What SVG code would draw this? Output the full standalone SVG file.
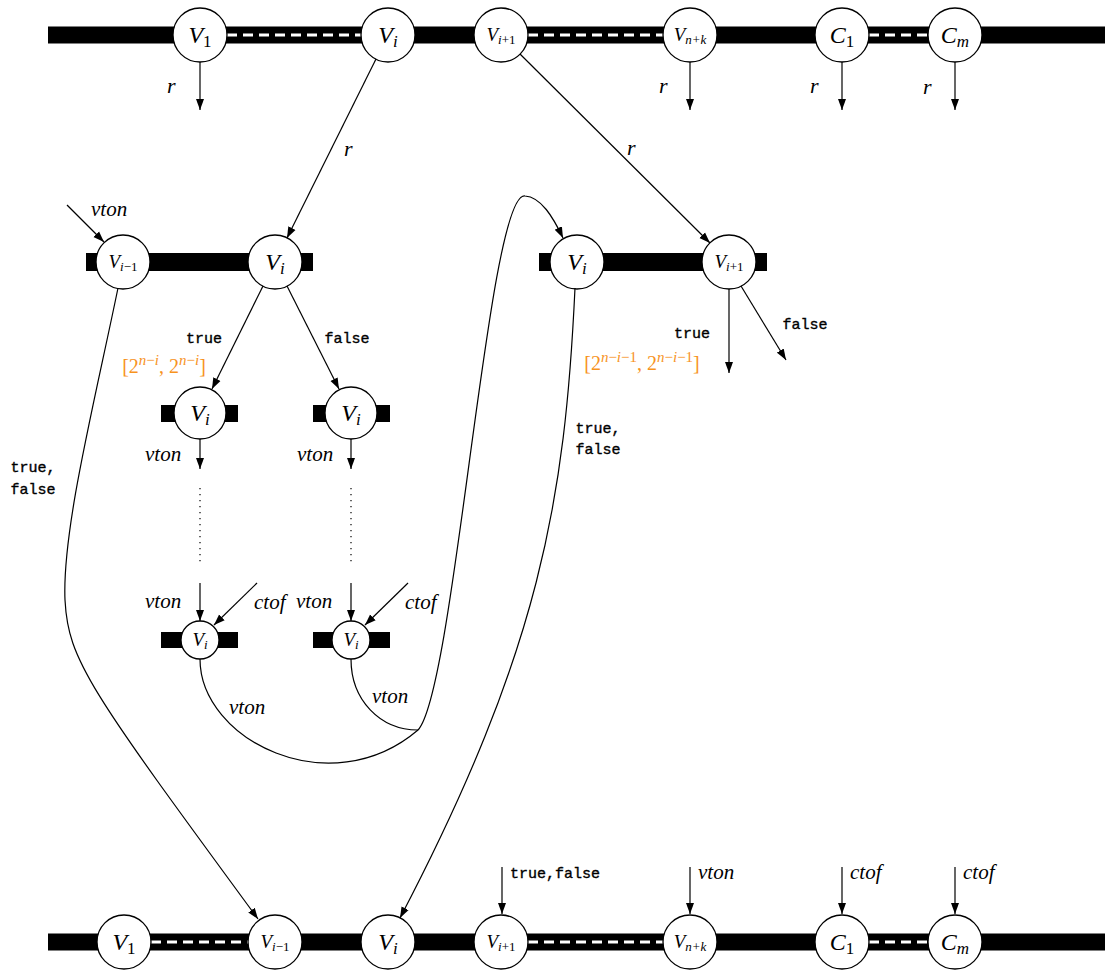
<svg xmlns="http://www.w3.org/2000/svg" width="1105" height="973" viewBox="0 0 1105 973">
<style>
.bar{fill:#000}
.dash{stroke:#fff;stroke-width:3;stroke-dasharray:10 6;fill:none}
.nd{fill:#fff;stroke:#000;stroke-width:1.3}
.nb{font-family:"Liberation Serif",serif;font-size:24px;text-anchor:middle;fill:#000}
.ns{font-family:"Liberation Serif",serif;font-size:19px;text-anchor:middle;fill:#000}
.it{font-style:italic}
.sb{font-size:17px}
.ss{font-size:13px}
.lab{font-family:"Liberation Serif",serif;font-style:italic;font-size:21px;fill:#000}
.rl{font-family:"Liberation Serif",serif;font-style:italic;font-size:22px;fill:#000}
.tt{font-family:"Liberation Mono",monospace;font-size:15px;fill:#000;stroke:#000;stroke-width:0.35}
.or{font-family:"Liberation Serif",serif;font-size:20px;fill:#f7931e;text-anchor:middle}
.sup{font-size:15px}
.e{stroke:#000;stroke-width:1.2;fill:none}
.ea{stroke:#000;stroke-width:1.2;fill:none;marker-end:url(#ah)}
.dot{stroke:#000;stroke-width:1.2;stroke-dasharray:1.2 4.8;fill:none}
</style>
<defs>
<marker id="ah" markerUnits="userSpaceOnUse" markerWidth="12" markerHeight="9" refX="11" refY="4.5" orient="auto">
<path d="M0,0.5 L11,4.5 L0,8.5 z" fill="#000"/>
</marker>
</defs>

<g id="top-row">
<rect class="bar" x="48" y="26.5" width="1057" height="17"/>
<line class="dash" x1="227" y1="35" x2="361" y2="35"/>
<line class="dash" x1="528" y1="35" x2="663" y2="35"/>
<line class="dash" x1="869" y1="35" x2="928" y2="35"/>
</g>
<g id="top-V1"><circle class="nd" cx="200" cy="35" r="27"/><text class="nb" x="200" y="43"><tspan class="it">V</tspan><tspan class="sb" dy="4">1</tspan></text></g>
<g id="top-Vi"><circle class="nd" cx="388" cy="35" r="27"/><text class="nb" x="388" y="43"><tspan class="it">V</tspan><tspan class="sb it" dy="4">i</tspan></text></g>
<g id="top-Vi1"><circle class="nd" cx="501" cy="35" r="27"/><text class="ns" x="501" y="41"><tspan class="it">V</tspan><tspan class="ss" dy="3"><tspan class="it">i</tspan>+1</tspan></text></g>
<g id="top-Vnk"><circle class="nd" cx="690" cy="35" r="27"/><text class="ns" x="690" y="41"><tspan class="it">V</tspan><tspan class="ss it" dy="3">n+k</tspan></text></g>
<g id="top-C1"><circle class="nd" cx="842" cy="35" r="27"/><text class="nb" x="842" y="43"><tspan class="it">C</tspan><tspan class="sb" dy="4">1</tspan></text></g>
<g id="top-Cm"><circle class="nd" cx="955" cy="35" r="27"/><text class="nb" x="955" y="43"><tspan class="it">C</tspan><tspan class="sb it" dy="4">m</tspan></text></g>

<g id="mid-left-bar"><rect class="bar" x="86" y="253" width="227" height="18"/></g>
<g id="mid-Vim1"><circle class="nd" cx="123" cy="262" r="27"/><text class="ns" x="123" y="268"><tspan class="it">V</tspan><tspan class="ss" dy="3"><tspan class="it">i</tspan>−1</tspan></text></g>
<g id="mid-Vi"><circle class="nd" cx="275" cy="262" r="27"/><text class="nb" x="275" y="270"><tspan class="it">V</tspan><tspan class="sb it" dy="4">i</tspan></text></g>

<g id="mid-right-bar"><rect class="bar" x="539" y="253" width="228" height="18"/></g>
<g id="midr-Vi"><circle class="nd" cx="577" cy="262" r="27"/><text class="nb" x="577" y="270"><tspan class="it">V</tspan><tspan class="sb it" dy="4">i</tspan></text></g>
<g id="midr-Vi1"><circle class="nd" cx="729" cy="262" r="27"/><text class="ns" x="729" y="268"><tspan class="it">V</tspan><tspan class="ss" dy="3"><tspan class="it">i</tspan>+1</tspan></text></g>

<g id="true-Vi"><rect class="bar" x="161" y="405" width="77" height="17"/><circle class="nd" cx="200" cy="413" r="26"/><text class="nb" x="200" y="421"><tspan class="it">V</tspan><tspan class="sb it" dy="4">i</tspan></text></g>
<g id="false-Vi"><rect class="bar" x="313" y="405" width="77" height="17"/><circle class="nd" cx="351" cy="413" r="26"/><text class="nb" x="351" y="421"><tspan class="it">V</tspan><tspan class="sb it" dy="4">i</tspan></text></g>
<g id="true-Vi-end"><rect class="bar" x="161" y="632" width="77" height="16"/><circle class="nd" cx="200" cy="640" r="19"/><text class="ns" x="200" y="646"><tspan class="it">V</tspan><tspan class="ss it" dy="3">i</tspan></text></g>
<g id="false-Vi-end"><rect class="bar" x="313" y="632" width="77" height="16"/><circle class="nd" cx="351" cy="640" r="19"/><text class="ns" x="351" y="646"><tspan class="it">V</tspan><tspan class="ss it" dy="3">i</tspan></text></g>

<g id="bottom-row">
<rect class="bar" x="48" y="933.5" width="1057" height="17"/>
<line class="dash" x1="151" y1="942" x2="248" y2="942"/>
<line class="dash" x1="528" y1="942" x2="663" y2="942"/>
<line class="dash" x1="869" y1="942" x2="928" y2="942"/>
</g>
<g id="bot-V1"><circle class="nd" cx="124" cy="942" r="27"/><text class="nb" x="124" y="950"><tspan class="it">V</tspan><tspan class="sb" dy="4">1</tspan></text></g>
<g id="bot-Vim1"><circle class="nd" cx="275" cy="942" r="27"/><text class="ns" x="275" y="948"><tspan class="it">V</tspan><tspan class="ss" dy="3"><tspan class="it">i</tspan>−1</tspan></text></g>
<g id="bot-Vi"><circle class="nd" cx="388" cy="942" r="27"/><text class="nb" x="388" y="950"><tspan class="it">V</tspan><tspan class="sb it" dy="4">i</tspan></text></g>
<g id="bot-Vi1"><circle class="nd" cx="501" cy="942" r="27"/><text class="ns" x="501" y="948"><tspan class="it">V</tspan><tspan class="ss" dy="3"><tspan class="it">i</tspan>+1</tspan></text></g>
<g id="bot-Vnk"><circle class="nd" cx="690" cy="942" r="27"/><text class="ns" x="690" y="948"><tspan class="it">V</tspan><tspan class="ss it" dy="3">n+k</tspan></text></g>
<g id="bot-C1"><circle class="nd" cx="842" cy="942" r="27"/><text class="nb" x="842" y="950"><tspan class="it">C</tspan><tspan class="sb" dy="4">1</tspan></text></g>
<g id="bot-Cm"><circle class="nd" cx="955" cy="942" r="27"/><text class="nb" x="955" y="950"><tspan class="it">C</tspan><tspan class="sb it" dy="4">m</tspan></text></g>

<g id="connectors">
<line class="ea" x1="200" y1="62" x2="200" y2="110"/>
<line class="ea" x1="690" y1="62" x2="690" y2="110"/>
<line class="ea" x1="842" y1="62" x2="842" y2="110"/>
<line class="ea" x1="955" y1="62" x2="955" y2="110"/>
<line class="ea" x1="376" y1="59" x2="287" y2="238"/>
<line class="ea" x1="520" y1="54" x2="710" y2="243"/>
<line class="ea" x1="67" y1="205" x2="104" y2="242"/>
<line class="ea" x1="263" y1="286" x2="212" y2="389"/>
<line class="ea" x1="287" y1="286" x2="339" y2="389"/>
<line class="ea" x1="729" y1="289" x2="729" y2="373"/>
<line class="ea" x1="741" y1="286" x2="786" y2="360"/>
<line class="ea" x1="200" y1="439" x2="200" y2="469"/>
<line class="ea" x1="351" y1="439" x2="351" y2="469"/>
<line class="dot" x1="200" y1="488" x2="200" y2="562"/>
<line class="dot" x1="351" y1="488" x2="351" y2="562"/>
<line class="ea" x1="200" y1="583" x2="200" y2="621"/>
<line class="ea" x1="351" y1="583" x2="351" y2="621"/>
<line class="ea" x1="257" y1="583" x2="214" y2="625"/>
<line class="ea" x1="408" y1="583" x2="365" y2="625"/>
<path class="e" d="M351,659 C351,700 380,730 418,730"/>
<path class="ea" d="M200,659 C200,740 330,805 418,730 C455,690 488,190 525,196 C541,197 553,217 563,238"/>
<path class="ea" d="M118,288 C95,400 62,530 65,600 C68,660 90,690 258,919"/>
<path class="ea" d="M575,288 C565,500 540,650 400,918"/>
<line class="ea" x1="502" y1="867" x2="502" y2="914"/>
<line class="ea" x1="690" y1="867" x2="690" y2="914"/>
<line class="ea" x1="842" y1="867" x2="842" y2="914"/>
<line class="ea" x1="955" y1="867" x2="955" y2="914"/>
</g>

<g id="labels">
<text class="rl" x="167" y="93">r</text>
<text class="rl" x="659" y="93">r</text>
<text class="rl" x="810" y="93">r</text>
<text class="rl" x="923" y="94">r</text>
<text class="rl" x="344" y="156">r</text>
<text class="rl" x="627" y="155">r</text>
<text class="lab" x="91" y="216">vton</text>
<text class="tt" x="204" y="343" text-anchor="middle">true</text>
<text class="tt" x="347" y="343" text-anchor="middle">false</text>
<text class="or" x="164" y="373">[2<tspan class="sup" dy="-8"><tspan class="it">n</tspan>−<tspan class="it">i</tspan></tspan><tspan dy="8">, 2</tspan><tspan class="sup" dy="-8"><tspan class="it">n</tspan>−<tspan class="it">i</tspan></tspan><tspan dy="8">]</tspan></text>
<text class="tt" x="692" y="338" text-anchor="middle">true</text>
<text class="tt" x="805" y="329" text-anchor="middle">false</text>
<text class="or" x="642" y="370">[2<tspan class="sup" dy="-8"><tspan class="it">n</tspan>−<tspan class="it">i</tspan>−1</tspan><tspan dy="8">, 2</tspan><tspan class="sup" dy="-8"><tspan class="it">n</tspan>−<tspan class="it">i</tspan>−1</tspan><tspan dy="8">]</tspan></text>
<text class="tt" x="33" y="472" text-anchor="middle">true,</text>
<text class="tt" x="33" y="494" text-anchor="middle">false</text>
<text class="tt" x="598" y="433" text-anchor="middle">true,</text>
<text class="tt" x="598" y="454" text-anchor="middle">false</text>
<text class="lab" x="145" y="461">vton</text>
<text class="lab" x="297" y="461">vton</text>
<text class="lab" x="145" y="608">vton</text>
<text class="lab" x="296" y="608">vton</text>
<text class="lab" x="254" y="609">ctof</text>
<text class="lab" x="405" y="609">ctof</text>
<text class="lab" x="229" y="714">vton</text>
<text class="lab" x="372" y="703">vton</text>
<text class="tt" x="510" y="878">true,false</text>
<text class="lab" x="698" y="879">vton</text>
<text class="lab" x="850" y="879">ctof</text>
<text class="lab" x="963" y="879">ctof</text>
</g>
</svg>
